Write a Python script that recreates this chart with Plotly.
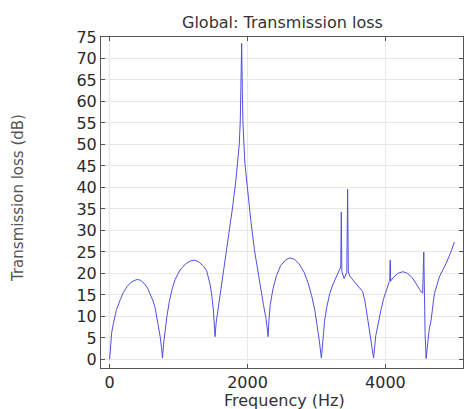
import plotly.graph_objects as go

# Frequency (Hz) and transmission loss (dB)
freq = [0, 10, 30, 58, 100, 155, 200, 252, 300, 350, 400, 450, 500, 550, 589, 630, 660, 686, 710, 733, 752, 767,
        782, 800, 830, 865, 902, 950, 1022, 1100, 1170, 1239, 1300, 1360, 1408, 1456, 1481, 1505, 1520, 1529,
        1545, 1580, 1620, 1673, 1720, 1780, 1830, 1857, 1880, 1895, 1905, 1915, 1925, 1935, 1962, 2000, 2050,
        2100, 2131, 2180, 2230, 2270, 2299,
        2310, 2330, 2370, 2420, 2480, 2550, 2613, 2680, 2750, 2820, 2880, 2930, 2975, 3010, 3040, 3071,
        3090, 3119, 3150, 3192, 3240, 3288, 3330, 3352, 3360, 3368, 3400, 3440, 3452, 3462, 3481, 3530, 3580,
        3630, 3673, 3680, 3700, 3746, 3790, 3828,
        3860, 3900, 3939, 3975, 4011, 4040, 4062, 4069, 4076, 4110, 4179, 4252, 4320, 4390, 4450, 4500, 4518,
        4540, 4556, 4562, 4575, 4590, 4610, 4635, 4662, 4710, 4782, 4879, 4950, 5000]
tl = [0, 3, 6.3, 8.6, 11.6, 13.9, 15.6, 16.9, 17.8, 18.3, 18.6, 18.4, 17.7, 16.6, 15.3, 13.6, 12, 9.9, 7.8, 5.3, 2.8, 0.3,
      3.5, 6.2, 9.9, 13.4, 16.1, 18.6, 20.8, 22.2, 22.9, 23.1, 22.6, 21.7, 20.6, 17.5, 15, 11.5, 8.5, 5.3,
      8.5, 12.5, 16.3, 22.3, 27.5, 35, 41.5, 45.6, 50, 55.5, 62, 73.5, 62, 54.5, 45.6, 39.5, 32,
      25.5, 22.3, 17.2, 12.8, 9.3, 5.3,
      9, 12.8, 16.5, 19.5, 21.8, 23.1, 23.6, 23.3, 22.2, 20.3, 17.7, 14.8, 11.5, 8, 4.5, 0.3,
      4.5, 9.1, 12.2, 15.3, 17.5, 19.2, 20.5, 21.5, 34.3, 20.5, 18.8, 20.2, 39.6, 20.5, 19.4, 18.4, 17.4,
      16.5, 15.7, 15.0, 13.8, 9.1, 4.5, 0.3,
      5.5, 9, 11.8, 14.2, 16.1, 17.6, 18.4, 23.1, 18.2, 19, 20, 20.4, 20, 19, 17.6, 16.2, 15.7,
      15.4, 25.0, 12, 6, 0.2, 4, 7, 9.1, 15.3, 19.2, 22.3, 25, 27.3]

x_ticks = [0, 2000, 4000]
y_ticks = [0, 5, 10, 15, 20, 25, 30, 35, 40, 45, 50, 55, 60, 65, 70, 75]

W, H = 464, 409
L, R, T, B = 101, 1, 37, 41
pw, ph = W - L - R, H - T - B


def px_x(px):
    return (px - L) / pw


def px_y(py):
    return (H - B - py) / ph


fig = go.Figure()
fig.add_trace(go.Scatter(x=freq, y=tl, mode="lines",
                         line=dict(color="rgb(80,80,225)", width=1),
                         showlegend=False))

axis_common = dict(showline=True, linecolor="#555", linewidth=1, mirror="ticks",
                   ticks="inside", ticklen=4, tickcolor="#555",
                   showgrid=True, gridcolor="#e8e8e8", gridwidth=1, zeroline=False,
                   tickfont=dict(family="DejaVu Sans", size=16, color="#2a2a2a"))

fig.update_layout(
    width=W, height=H,
    margin=dict(l=L, r=R, t=T, b=B),
    paper_bgcolor="white", plot_bgcolor="white",
    xaxis=dict(range=[-125, 5125], tickvals=x_ticks, ticktext=[str(v) for v in x_ticks], **axis_common),
    yaxis=dict(range=[-2, 75], tickvals=y_ticks, ticktext=[str(v) for v in y_ticks], **axis_common),
    annotations=[
        dict(text="Global: Transmission loss", x=px_x(282), y=px_y(23), xref="paper", yref="paper",
             showarrow=False, xanchor="center", yanchor="middle",
             font=dict(family="DejaVu Sans", size=16, color="#333")),
        dict(text="Frequency (Hz)", x=px_x(284), y=px_y(400), xref="paper", yref="paper",
             showarrow=False, xanchor="center", yanchor="middle",
             font=dict(family="DejaVu Sans", size=16, color="#333")),
        dict(text="Transmission loss (dB)", x=px_x(18), y=px_y(198), xref="paper", yref="paper",
             showarrow=False, xanchor="center", yanchor="middle", textangle=-90,
             font=dict(family="DejaVu Sans", size=15, color="#555")),
    ],
)

fig.write_html("out.html")
